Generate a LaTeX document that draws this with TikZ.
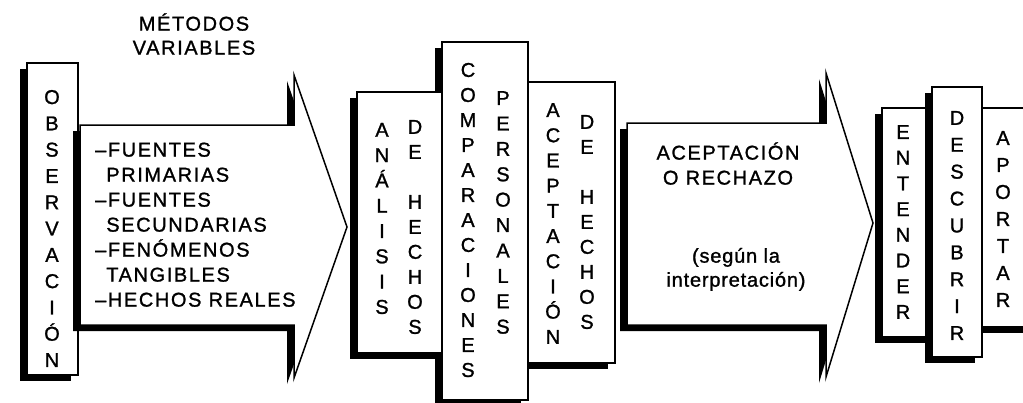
\documentclass[tikz,border=0pt]{standalone}
\usepackage{fontspec}
\setmainfont{Liberation Sans}[LetterSpace=8, FakeBold=1.2]
\usetikzlibrary{positioning, shadows}
\tikzset{
    box/.style={rectangle, draw=black, fill=white, line width=1.5pt, inner sep=0pt,
        drop shadow={shadow xshift=-7pt, shadow yshift=-6pt, fill=black, opacity=1}},
    blockarrow/.style={draw=black, fill=white, line width=1.5pt, line join=miter,
        drop shadow={shadow xshift=-7pt, shadow yshift=-6pt, fill=black, opacity=1}},
    vcol/.style={align=center, inner sep=0pt, font=\fontsize{20}{#1}\selectfont},
    vcol/.default=25,
    txt/.style={inner sep=0pt, font=\fontsize{20}{25}\selectfont},
}
\begin{document}
\begin{tikzpicture}[x=1pt, y=-1pt]
    \useasboundingbox (0,0) rectangle (1023,402);
    \begin{scope}
        \clip (0,0) rectangle (1023,402);

        % Observacion
        \node[box, minimum width=51pt, minimum height=312pt] (obs) at (52.5,219) {};

        % Primera flecha
        \path[blockarrow] (80,125) -- (294,125) -- (294,75) -- (347,227) -- (294,378)
            -- (294,325) -- (80,325) -- cycle;

        % Bloque central
        \node[box, minimum width=87pt, minimum height=281pt] (acep) at (571.5,222.5) {};
        \node[box, minimum width=86pt, minimum height=358pt] (comp) at (485,221) {};
        \node[box, minimum width=85pt, minimum height=261pt] (anal) at (399.5,222.5) {};

        % Segunda flecha
        \path[blockarrow] (627,123) -- (826,123) -- (826,73) -- (873,223) -- (826,377)
            -- (826,325) -- (627,325) -- cycle;

        % Bloque final
        \node[box, minimum width=63pt, minimum height=219pt] (apor) at (1013.5,217.5) {};
        \node[box, minimum width=50pt, minimum height=229pt] (ent) at (907,222.5) {};
        \node[box, minimum width=50pt, minimum height=270pt] (desc) at (957,222) {};
    \end{scope}

    % Columnas de letras
    \node[vcol=26.3] (tobs) at (52,228.5) {O\\B\\S\\E\\R\\V\\A\\C\\I\\Ó\\N};
    \node[vcol=25.3] (tanal) at (382,218.5) {A\\N\\Á\\L\\I\\S\\I\\S};
    \node[vcol] (thec1) at (415,227) {D\\E\\[25pt]H\\E\\C\\H\\O\\S};
    \node[vcol] (tcomp) at (468,220) {C\\O\\M\\P\\A\\R\\A\\C\\I\\O\\N\\E\\S};
    \node[vcol=25.4] (tpers) at (503,212.5) {P\\E\\R\\S\\O\\N\\A\\L\\E\\S};
    \node[vcol=25.2] (tacep) at (553,223.5) {A\\C\\E\\P\\T\\A\\C\\I\\Ó\\N};
    \node[vcol] (thec2) at (587,222) {D\\E\\[25pt]H\\E\\C\\H\\O\\S};
    \node[vcol=25.7] (tent) at (903,222) {E\\N\\T\\E\\N\\D\\E\\R};
    \node[vcol=26.9] (tdesc) at (957,225.5) {D\\E\\S\\C\\U\\B\\R\\I\\R};
    \node[vcol=27] (tapor) at (1003,219) {A\\P\\O\\R\\T\\A\\R};

    % Textos
    \node[txt, align=center, font=\fontsize{20}{24}\selectfont, anchor=south] (metodos)
        at (194,55) {MÉTODOS\\VARIABLES};
    \node[txt, align=left, anchor=south west] (fuentes) at (95,307)
        {–FUENTES\\\hphantom{–}PRIMARIAS\\–FUENTES\\\hphantom{–}SECUNDARIAS\\–FENÓMENOS\\\hphantom{–}TANGIBLES\\–HECHOS REALES};
    \node[txt, align=center, anchor=south] (rechazo) at (728,185) {ACEPTACIÓN\\O RECHAZO};
    \node[txt, align=center, font=\fontsize{20}{24}\selectfont\addfontfeatures{LetterSpace=4}, anchor=south]
        (interp) at (736,291) {(según la\\interpretación)};
\end{tikzpicture}
\end{document}
